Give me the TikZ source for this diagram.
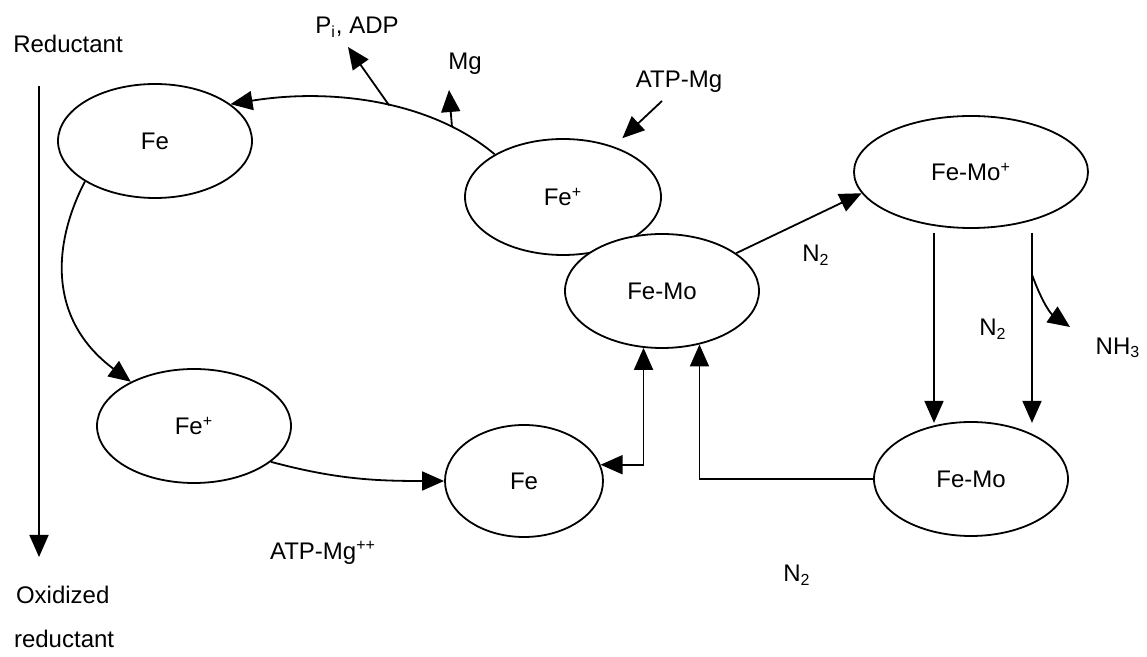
\documentclass[tikz,border=0pt]{standalone}
\usepackage{xcolor}
\usepackage{fontspec}
\setmainfont{Liberation Sans}
\usetikzlibrary{shapes.geometric,arrows.meta}

\tikzset{
    every node/.style={font=\fontsize{12}{14}\selectfont},
    state/.style={ellipse, draw, fill=white, line width=0.9pt, inner sep=0pt, minimum width=97pt, minimum height=57pt},
    arr/.style={->, line width=0.9pt}
}

\begin{document}
\begin{tikzpicture}[x=0.5pt,y=-0.5pt,>={Triangle[length=11pt,width=9.5pt]}]
        \useasboundingbox (0,0) rectangle (1147,657);

        \node[state] (fe1) at (155,141) {Fe}; %Fe
        \node[state] (fep1) at (194,426) {Fe\textsuperscript{+}}; %Fe+
        \node[state, minimum width=79pt, minimum height=56pt] (fe2) at (524,481) {Fe}; %Fe
        \node[state, minimum width=98pt, minimum height=58pt] (fep2) at (563,197) {Fe\textsuperscript{+}}; %Fe+
        \node[state] (femo) at (662,291) {Fe-Mo}; %Fe-Mo
        \node[state, minimum width=117pt, minimum height=56pt] (femop) at (971,172) {Fe-Mo\textsuperscript{+}}; %Fe-Mo+
        \node[state] (femo2) at (971,479) {Fe-Mo}; %Fe-Mo

        \node (red) at (68,44) {Reductant};
        \node[anchor=west] (ox) at (9,595) {Oxidized};
        \node[anchor=west] (oxred) at (7,639) {reductant};
        \node (pi) at (357,27) {P\textsubscript{i}, ADP};
        \node (mg) at (465,64) {Mg};
        \node (atp) at (679,82) {ATP-Mg};
        \node (atpp) at (323,553) {ATP-Mg\textsuperscript{++}};
        \node (ntop) at (816,255) {N\textsubscript{2}};
        \node (nmid) at (993,329) {N\textsubscript{2}};
        \node (nbot) at (797,575) {N\textsubscript{2}};
        \node (nh) at (1118,348) {NH\textsubscript{3}};

        \coordinate (axtop) at (39,86);
        \coordinate (axbot) at (39,557);
        \coordinate (pitip) at (348,47);
        \coordinate (mgtip) at (449,90);
        \coordinate (atpst) at (662,101);
        \coordinate (nhtip) at (1070,327);

        \draw[arr] (axtop) -- (axbot); %reductant
        \draw[arr] (fep2.148) .. controls (430,100) and (330,88) .. (fe1.26)
            coordinate[pos=0.2] (mgbr) coordinate[pos=0.45] (pibr); %Fe+ -> Fe
        \draw[arr] (pibr) -- (pitip); %Pi, ADP
        \draw[arr] (mgbr) -- (mgtip); %Mg
        \draw[arr, shorten >=6pt] (atpst) -- (fep2.45); %ATP-Mg
        \draw[arr] (fe1.210) .. controls (52,245) and (48,320) .. (fep1.145); %Fe -> Fe+
        \draw[arr] (fep1.-25) to[out=-15, in=180] (fe2.west); %Fe+ -> Fe
        \draw[<->, line width=0.9pt] (fe2.12) -| (femo.-108); %Fe <-> Fe-Mo
        \draw[arr] (femo2.west) -| (femo.-55); %Fe-Mo -> Fe-Mo
        \draw[arr] (femo.27) -- (femop.191); %N2
        \draw[arr] ([xshift=-18.5pt,yshift=-2pt]femop.south) -- ++(0,190); %N2
        \draw[arr] ([xshift=30.5pt,yshift=-2pt]femop.south) -- coordinate[pos=0.22] (nhbr) ++(0,190);
        \draw[arr] (nhbr) to[out=-70, in=145] (nhtip); %NH3
    \end{tikzpicture}
\end{document}
